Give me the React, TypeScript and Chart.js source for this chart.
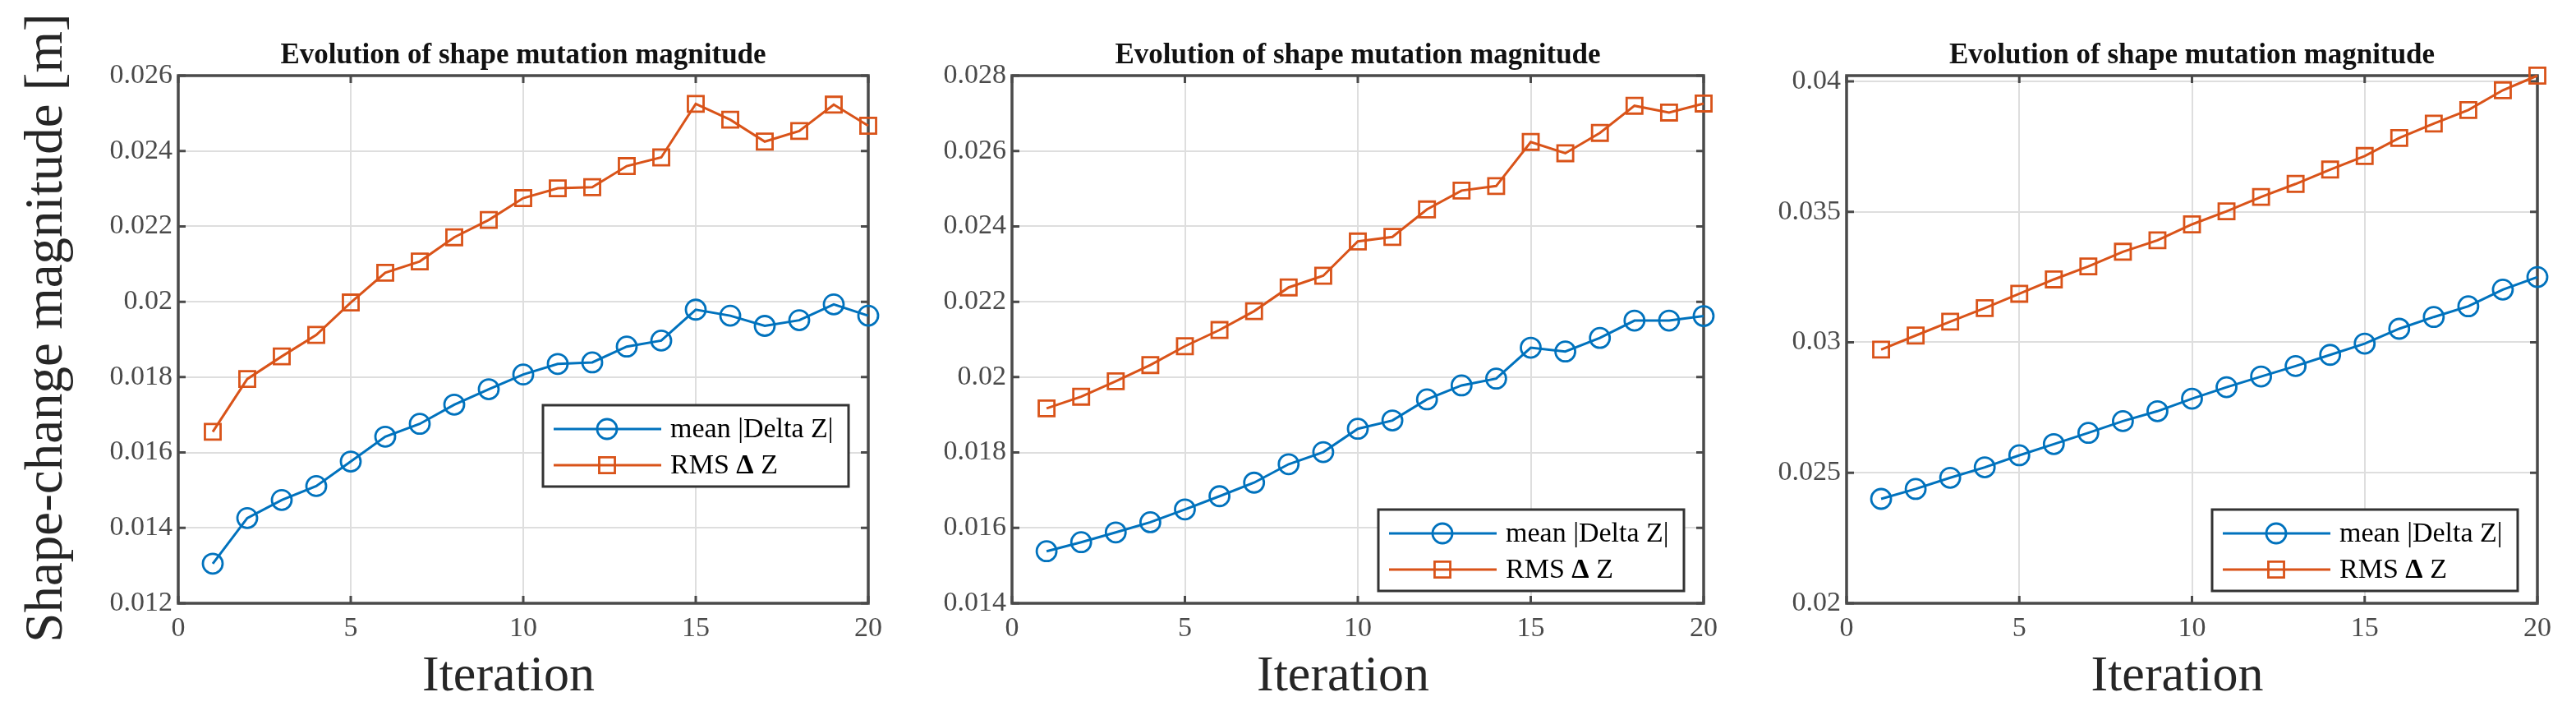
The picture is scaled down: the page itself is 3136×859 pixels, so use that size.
import { useEffect, useRef } from 'react';
import { Chart, registerables } from 'chart.js';

Chart.register(...registerables);

// ---- data ----
const iterations = [1, 2, 3, 4, 5, 6, 7, 8, 9, 10, 11, 12, 13, 14, 15, 16, 17, 18, 19, 20];
const xTicks = [0, 5, 10, 15, 20];
const xTickLabels = ['0', '5', '10', '15', '20'];

const meanDz1 = [0.01305, 0.01426, 0.01474, 0.01511, 0.01576, 0.01642, 0.01676, 0.01727, 0.01768, 0.01807,
  0.01835, 0.01839, 0.01881, 0.01897, 0.01979, 0.01963, 0.01936, 0.01951, 0.01993, 0.01963];
const rmsDz1 = [0.01655, 0.01795, 0.01855, 0.01912, 0.01998, 0.02077, 0.02107, 0.02171, 0.02217, 0.02275,
  0.02301, 0.02304, 0.0236, 0.02383, 0.02525, 0.02483, 0.02425, 0.02453, 0.02523, 0.02467];

const meanDz2 = [0.01538, 0.01562, 0.01588, 0.01615, 0.01649, 0.01684, 0.0172, 0.01769, 0.01801, 0.01863,
  0.01885, 0.01941, 0.01978, 0.01996, 0.02078, 0.02068, 0.02104, 0.0215, 0.0215, 0.02162];
const rmsDz2 = [0.01917, 0.01948, 0.01989, 0.02032, 0.02082, 0.02125, 0.02175, 0.02238, 0.02269, 0.0236,
  0.02372, 0.02445, 0.02495, 0.02507, 0.02624, 0.02594, 0.02648, 0.0272, 0.02702, 0.02726];

const meanDz3 = [0.024, 0.02438, 0.02481, 0.02521, 0.02567, 0.0261, 0.02653, 0.02698, 0.02736, 0.02784,
  0.02828, 0.02869, 0.02909, 0.02952, 0.02995, 0.03052, 0.03097, 0.03138, 0.03202, 0.0325];
const rmsDz3 = [0.02972, 0.03026, 0.03079, 0.03131, 0.03186, 0.03241, 0.03291, 0.03347, 0.03391, 0.03452,
  0.03502, 0.03557, 0.03607, 0.03662, 0.03714, 0.03783, 0.03838, 0.0389, 0.03966, 0.04022];

const yTicks1 = [0.012, 0.014, 0.016, 0.018, 0.02, 0.022, 0.024, 0.026];
const yTickLabels1 = ['0.012', '0.014', '0.016', '0.018', '0.02', '0.022', '0.024', '0.026'];
const yTicks2 = [0.014, 0.016, 0.018, 0.02, 0.022, 0.024, 0.026, 0.028];
const yTickLabels2 = ['0.014', '0.016', '0.018', '0.02', '0.022', '0.024', '0.026', '0.028'];
const yTicks3 = [0.02, 0.025, 0.03, 0.035, 0.04];
const yTickLabels3 = ['0.02', '0.025', '0.03', '0.035', '0.04'];

const seriesLabels = ['mean |Delta Z|', 'RMS Δ Z'];
const titleText = 'Evolution of shape mutation magnitude';
const xTitle = 'Iteration';
const yTitle = 'Shape-change magnitude [m]';

// ---- styles ----
const SERIF = "'Liberation Serif', 'Times New Roman', serif";
const BLUE = '#0072BD';
const ORANGE = '#D95319';
const FRAME = '#4a4a4a';
const GRID = '#dedede';
const TICK_TEXT = '#4a4a4a';
const TEXT = '#262626';
const HEIGHT = 859;

Chart.defaults.font.family = SERIF;

// box + inward tick marks, drawn over the grid and under the data
const matlabFrame = {
  id: 'matlabFrame',
  beforeDatasetsDraw(chart: any) {
    const { ctx, chartArea: a, scales } = chart;
    ctx.save();
    ctx.strokeStyle = FRAME;
    ctx.lineWidth = 3;
    ctx.beginPath();
    scales.x.ticks.forEach((t: any) => {
      const px = scales.x.getPixelForValue(t.value);
      ctx.moveTo(px, a.bottom);
      ctx.lineTo(px, a.bottom - 9);
      ctx.moveTo(px, a.top);
      ctx.lineTo(px, a.top + 9);
    });
    scales.y.ticks.forEach((t: any) => {
      const py = scales.y.getPixelForValue(t.value);
      ctx.moveTo(a.left, py);
      ctx.lineTo(a.left + 9, py);
      ctx.moveTo(a.right, py);
      ctx.lineTo(a.right - 9, py);
    });
    ctx.stroke();
    ctx.lineWidth = 3.5;
    ctx.strokeRect(a.left, a.top, a.right - a.left, a.bottom - a.top);
    ctx.restore();
  },
};

function drawLabel(ctx: CanvasRenderingContext2D, text: string, x: number, y: number) {
  // the delta glyph is bold in the original legend
  const parts = text.split('Δ');
  let cx = x;
  parts.forEach((p, i) => {
    ctx.font = `34px ${SERIF}`;
    ctx.fillText(p, cx, y);
    cx += ctx.measureText(p).width;
    if (i < parts.length - 1) {
      ctx.font = `bold 34px ${SERIF}`;
      ctx.fillText('Δ', cx, y);
      cx += ctx.measureText('Δ').width;
    }
  });
}

const boxLegend = {
  id: 'boxLegend',
  afterDatasetsDraw(chart: any, _args: any, opts: any) {
    const { ctx, chartArea: a } = chart;
    const w = 372;
    const h = 99;
    const left = a.right - 24 - w;
    const top = a.top + opts.top;
    ctx.save();
    ctx.fillStyle = '#ffffff';
    ctx.fillRect(left, top, w, h);
    ctx.lineWidth = 3;
    ctx.strokeStyle = '#333333';
    ctx.strokeRect(left, top, w, h);
    chart.data.datasets.forEach((ds: any, i: number) => {
      const y = top + (i === 0 ? 29 : 73);
      ctx.strokeStyle = ds.borderColor;
      ctx.lineWidth = 3;
      ctx.beginPath();
      ctx.moveTo(left + 13, y);
      ctx.lineTo(left + 144, y);
      ctx.stroke();
      ctx.lineWidth = 2.8;
      ctx.beginPath();
      if (ds.pointStyle === 'circle') {
        ctx.arc(left + 78, y, ds.pointRadius, 0, Math.PI * 2);
      } else {
        const s = ds.pointRadius * Math.SQRT1_2;
        ctx.rect(left + 78 - s, y - s, 2 * s, 2 * s);
      }
      ctx.stroke();
      ctx.fillStyle = '#000000';
      ctx.textAlign = 'left';
      ctx.textBaseline = 'middle';
      drawLabel(ctx, ds.label, left + 155, y + 1);
    });
    ctx.restore();
  },
};

// axis titles, placed as in the original figure
const axisText = {
  id: 'axisText',
  afterDraw(chart: any, _args: any, opts: any) {
    const { ctx, chartArea: a } = chart;
    ctx.save();
    ctx.fillStyle = TEXT;
    ctx.textAlign = 'center';
    ctx.textBaseline = 'middle';
    ctx.font = `62px ${SERIF}`;
    ctx.fillText(xTitle, (a.left + a.right) / 2 - 18, 824);
    if (opts.showY) {
      ctx.translate(58, 399);
      ctx.rotate(-Math.PI / 2);
      ctx.font = `65px ${SERIF}`;
      ctx.fillText(yTitle, 0, 0);
    }
    ctx.restore();
  },
};

interface PanelProps {
  left: number;
  width: number;
  yAxisWidth: number;
  rightPad: number;
  mean: number[];
  rms: number[];
  yMin: number;
  yMax: number;
  yTicks: number[];
  yTickLabels: string[];
  legendTop: number;
  showY: boolean;
}

function Panel(p: PanelProps) {
  const ref = useRef<HTMLCanvasElement>(null);

  useEffect(() => {
    if (!ref.current) return;
    const chart = new Chart(ref.current, {
      type: 'line',
      data: {
        datasets: [
          {
            label: seriesLabels[0],
            data: iterations.map((x, i) => ({ x, y: p.mean[i] })),
            borderColor: BLUE,
            borderWidth: 3,
            pointStyle: 'circle',
            pointRadius: 12,
            pointBorderWidth: 2.8,
            pointBorderColor: BLUE,
            pointBackgroundColor: 'rgba(0,0,0,0)',
            tension: 0,
            fill: false,
            clip: false,
          },
          {
            label: seriesLabels[1],
            data: iterations.map((x, i) => ({ x, y: p.rms[i] })),
            borderColor: ORANGE,
            borderWidth: 3,
            pointStyle: 'rect',
            pointRadius: 13.5,
            pointBorderWidth: 2.8,
            pointBorderColor: ORANGE,
            pointBackgroundColor: 'rgba(0,0,0,0)',
            tension: 0,
            fill: false,
            clip: false,
          },
        ],
      } as any,
      options: {
        responsive: false,
        animation: false,
        layout: { padding: { left: 0, right: p.rightPad, top: 0, bottom: 0 } },
        plugins: {
          legend: { display: false },
          tooltip: { enabled: false },
          title: {
            display: true,
            text: titleText,
            fullSize: false,
            color: '#111111',
            font: { family: SERIF, size: 35, weight: 'bold', lineHeight: 1.2 },
            padding: { top: 46.5, bottom: 3.5 },
          },
          boxLegend: { top: p.legendTop },
          axisText: { showY: p.showY },
        } as any,
        scales: {
          x: {
            type: 'linear',
            min: 0,
            max: 20,
            afterBuildTicks: (s: any) => {
              s.ticks = xTicks.map((v) => ({ value: v }));
            },
            afterFit: (s: any) => {
              s.height = 125;
            },
            ticks: {
              autoSkip: false,
              maxRotation: 0,
              padding: 11,
              color: TICK_TEXT,
              font: { family: SERIF, size: 34 },
              callback: (_v: any, i: number) => xTickLabels[i],
            },
            grid: { color: GRID, lineWidth: 2, drawTicks: false },
            border: { display: false },
          },
          y: {
            type: 'linear',
            min: p.yMin,
            max: p.yMax,
            afterBuildTicks: (s: any) => {
              s.ticks = p.yTicks.map((v) => ({ value: v }));
            },
            afterFit: (s: any) => {
              s.width = p.yAxisWidth;
            },
            ticks: {
              autoSkip: false,
              padding: 7,
              color: TICK_TEXT,
              font: { family: SERIF, size: 34 },
              callback: (_v: any, i: number) => p.yTickLabels[i],
            },
            grid: { color: GRID, lineWidth: 2, drawTicks: false },
            border: { display: false },
          },
        } as any,
      },
      plugins: [matlabFrame, boxLegend, axisText],
    });
    return () => chart.destroy();
  }, []);

  return (
    <canvas
      ref={ref}
      width={p.width}
      height={HEIGHT}
      style={{ position: 'absolute', left: p.left, top: 0, width: p.width, height: HEIGHT }}
    />
  );
}

export default function App() {
  return (
    <div style={{ position: 'absolute', left: 0, top: 0, width: 3136, height: HEIGHT, background: '#ffffff' }}>
      <Panel left={0} width={1100} yAxisWidth={217} rightPad={43} mean={meanDz1} rms={rmsDz1}
        yMin={0.012} yMax={0.026} yTicks={yTicks1} yTickLabels={yTickLabels1} legendTop={401} showY={true} />
      <Panel left={1100} width={1036} yAxisWidth={132} rightPad={62} mean={meanDz2} rms={rmsDz2}
        yMin={0.014} yMax={0.028} yTicks={yTicks2} yTickLabels={yTickLabels2} legendTop={528} showY={false} />
      <Panel left={2136} width={1000} yAxisWidth={112} rightPad={47} mean={meanDz3} rms={rmsDz3}
        yMin={0.02} yMax={0.04022} yTicks={yTicks3} yTickLabels={yTickLabels3} legendTop={528} showY={false} />
    </div>
  );
}
